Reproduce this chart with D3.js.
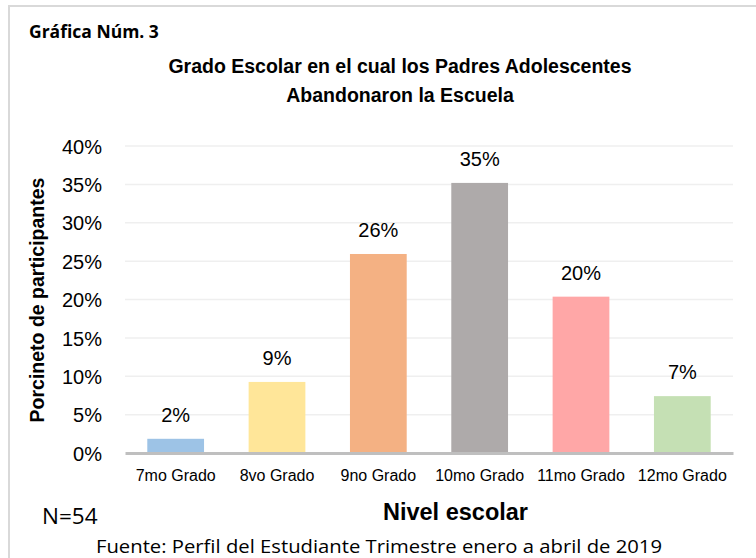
<!DOCTYPE html>
<html>
<head>
<meta charset="utf-8">
<script src="https://cdn.jsdelivr.net/npm/d3@7"></script>
<style>
  body { margin: 0; background: #fff; }
  svg { display: block; }
</style>
</head>
<body>
<svg width="756" height="558"></svg>
<script>
// grade levels and share of participants (n = 54)
const grados  = ["7mo Grado", "8vo Grado", "9no Grado", "10mo Grado", "11mo Grado", "12mo Grado"];
const valores = [1.85, 9.26, 25.93, 35.19, 20.37, 7.41];
const colores = ["#9DC3E6", "#FFE699", "#F4B183", "#AEAAAA", "#FFA7A7", "#C5E0B4"];
const yTicks  = [0, 5, 10, 15, 20, 25, 30, 35, 40];

const svg = d3.select("svg");

// plot area
const plotLeft = 125, plotRight = 733, plotTop = 146, plotBottom = 453;

const x = d3.scaleBand()
  .domain(grados)
  .range([plotLeft, plotRight])
  .paddingInner(0.44)
  .paddingOuter(0.22);

const y = d3.scaleLinear()
  .domain([0, 40])
  .range([plotBottom, plotTop]);

// outer frame
svg.append("rect")
  .attr("x", 9).attr("y", 6)
  .attr("width", 800).attr("height", 600)
  .attr("fill", "none")
  .attr("stroke", "#D9D9D9")
  .attr("stroke-width", 2);

svg.append("text")
  .attr("x", 29).attr("y", 38)
  .attr("font-family", "Open Sans, sans-serif")
  .attr("font-weight", "bold")
  .attr("font-size", 17.5)
  .attr("fill", "#000")
  .text("Gráfica Núm. 3");

// title
const title = svg.append("text")
  .attr("text-anchor", "middle")
  .attr("font-family", "Liberation Sans, Arial, sans-serif")
  .attr("font-weight", "bold")
  .attr("font-size", 19.5)
  .attr("fill", "#000");
title.append("tspan").attr("x", 400).attr("y", 73).text("Grado Escolar en el cual los Padres Adolescentes");
title.append("tspan").attr("x", 400).attr("y", 102).text("Abandonaron la Escuela");

// gridlines
svg.append("g")
  .selectAll("line")
  .data(yTicks.filter(d => d > 0))
  .join("line")
    .attr("x1", plotLeft).attr("x2", plotRight)
    .attr("y1", d => y(d)).attr("y2", d => y(d))
    .attr("stroke", "#EFEFEF")
    .attr("stroke-width", 1.5);

// y axis labels
const yAxis = svg.append("g")
  .attr("transform", `translate(${plotLeft - 23},0)`)
  .call(d3.axisLeft(y).tickValues(yTicks).tickFormat(d => d + "%").tickSize(0).tickPadding(0));
yAxis.select(".domain").remove();
yAxis.selectAll("text")
  .attr("font-family", "Liberation Sans, Arial, sans-serif")
  .attr("font-size", 20)
  .attr("fill", "#000")
  .attr("dy", "0.36em");

// bars
svg.append("g")
  .selectAll("rect")
  .data(valores)
  .join("rect")
    .attr("x", (d, i) => x(grados[i]))
    .attr("y", d => y(d))
    .attr("width", x.bandwidth())
    .attr("height", d => y(0) - y(d))
    .attr("fill", (d, i) => colores[i]);

// value labels
svg.append("g")
  .selectAll("text")
  .data(valores)
  .join("text")
    .attr("x", (d, i) => x(grados[i]) + x.bandwidth() / 2)
    .attr("y", d => y(d) - 17)
    .attr("text-anchor", "middle")
    .attr("font-family", "Liberation Sans, Arial, sans-serif")
    .attr("font-size", 20)
    .attr("fill", "#000")
    .text(d => Math.round(d) + "%");

// x axis
const xAxis = svg.append("g")
  .attr("transform", `translate(0,${plotBottom})`)
  .call(d3.axisBottom(x).tickSize(0).tickPadding(17));
xAxis.select(".domain")
  .attr("stroke", "#BFBFBF")
  .attr("stroke-width", 3);
xAxis.selectAll("text")
  .attr("font-family", "Liberation Sans, Arial, sans-serif")
  .attr("font-size", 16)
  .attr("fill", "#000");

// axis titles
svg.append("text")
  .attr("transform", "translate(44,300) rotate(-90)")
  .attr("text-anchor", "middle")
  .attr("font-family", "Liberation Sans, Arial, sans-serif")
  .attr("font-weight", "bold")
  .attr("font-size", 19.5)
  .attr("fill", "#000")
  .text("Porcineto de participantes");

svg.append("text")
  .attr("x", 455.5).attr("y", 520)
  .attr("text-anchor", "middle")
  .attr("font-family", "Liberation Sans, Arial, sans-serif")
  .attr("font-weight", "bold")
  .attr("font-size", 23.5)
  .attr("fill", "#000")
  .text("Nivel escolar");

svg.append("text")
  .attr("x", 42).attr("y", 524)
  .attr("font-family", "Open Sans, sans-serif")
  .attr("font-size", 22.5)
  .attr("fill", "#000")
  .text("N=54");

svg.append("text")
  .attr("x", 96).attr("y", 553)
  .attr("font-family", "Open Sans, sans-serif")
  .attr("font-size", 19)
  .attr("textLength", 566)
  .attr("lengthAdjust", "spacingAndGlyphs")
  .attr("fill", "#000")
  .text("Fuente: Perfil del Estudiante Trimestre enero a abril de 2019");
</script>
</body>
</html>
